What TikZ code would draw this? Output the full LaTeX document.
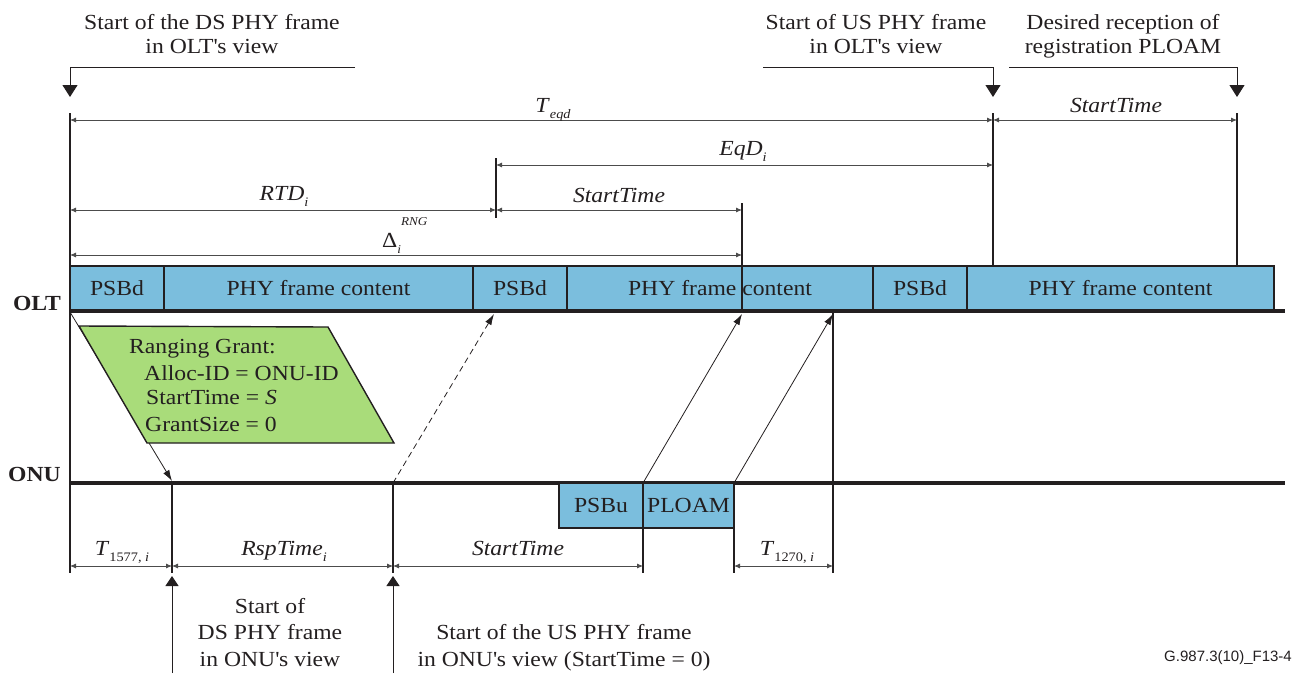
\documentclass[tikz,border=0pt]{standalone}
\usepackage{fontspec}
\setmainfont[FakeStretch=1.1]{Liberation Serif}
\newfontfamily\codefont{Liberation Sans}
\usetikzlibrary{arrows.meta}
\definecolor{boxblue}{HTML}{7BBEDD}
\definecolor{grantgreen}{HTML}{A9DC7A}
\definecolor{ink}{HTML}{231F20}
\newcommand{\lblfont}{\fontsize{21.5}{24}\selectfont}
\newcommand{\sbs}[1]{\raisebox{-0.3em}{\fontsize{13}{13}\selectfont #1}}
\newcommand{\ap}{\textquotesingle}
\begin{document}
\begin{tikzpicture}[x=1pt,y=-1pt,
  txt/.style={font=\lblfont, inner sep=0pt, align=center, text=ink},
  lefttxt/.style={font=\lblfont, inner sep=0pt, text=ink, anchor=base west},
  blk/.style={draw=ink, line width=1.4pt, fill=boxblue, font=\lblfont, text=ink, inner sep=0pt, outer sep=0pt, minimum height=45pt},
  dim/.style={draw=black!70, line width=0.8pt, {Latex[length=6pt,width=5pt]}-{Latex[length=6pt,width=5pt]}},
  tick/.style={draw=ink, line width=1.2pt},
  sig/.style={draw=ink, line width=0.8pt, -{Latex[length=11pt,width=7pt]}},
  callout/.style={draw=ink, line width=1pt, -{Triangle[length=12pt,width=15pt]}},
  uparrow/.style={draw=ink, line width=1pt, -{Triangle[length=10pt,width=13pt]}},
  axis/.style={draw=ink, line width=4pt},
]
\useasboundingbox (0,0) rectangle (1305,673);

% ---------- named coordinates ----------
\coordinate (oltL) at (70,311);  \coordinate (oltR) at (1285,311);
\coordinate (onuL) at (70,483);  \coordinate (onuR) at (1285,483);
\coordinate (v70t) at (70,113);  \coordinate (v70b) at (70,573);
\coordinate (v993t) at (993,113); \coordinate (v993b) at (993,266);
\coordinate (v1237t) at (1237,113); \coordinate (v1237b) at (1237,266);
\coordinate (v496t) at (496,158); \coordinate (v496b) at (496,218);
\coordinate (v742t) at (742,203); \coordinate (v742b) at (742,311);
\coordinate (v833t) at (833,311); \coordinate (v833b) at (833,573);
\coordinate (v172t) at (172,483); \coordinate (v172b) at (172,573);
\coordinate (v393t) at (393,483); \coordinate (v393b) at (393,573);
\coordinate (v643t) at (643,528); \coordinate (v643b) at (643,573);
\coordinate (v734t) at (734,528); \coordinate (v734b) at (734,573);
\coordinate (up172s) at (172,673); \coordinate (up172e) at (172,576);
\coordinate (up393s) at (393,673); \coordinate (up393e) at (393,576);

% ---------- top callouts ----------
\node[txt, anchor=base] (cDS) at (212,53) {Start of the DS PHY frame\\in OLT\ap s view};
\node[txt, anchor=base] (cUS) at (876,53) {Start of US PHY frame\\in OLT\ap s view};
\node[txt, anchor=base] (cRX) at (1123,53) {Desired reception of\\registration PLOAM};
\coordinate (cDSa) at (355,67); \coordinate (cDSb) at (70,67); \coordinate (cDSc) at (70,97);
\coordinate (cUSa) at (763,67); \coordinate (cUSb) at (993,67); \coordinate (cUSc) at (993,97);
\coordinate (cRXa) at (1009,67); \coordinate (cRXb) at (1237,67); \coordinate (cRXc) at (1237,97);
\draw[callout] (cDSa) -- (cDSb) -- (cDSc);
\draw[callout] (cUSa) -- (cUSb) -- (cUSc);
\draw[callout] (cRXa) -- (cRXb) -- (cRXc);

% ---------- vertical reference lines ----------
\draw[tick] (v70t) -- (v70b);
\draw[tick] (v993t) -- (v993b);
\draw[tick] (v1237t) -- (v1237b);
\draw[tick] (v496t) -- (v496b);

% ---------- dimension lines (top) ----------
\coordinate (dTa) at (70,120); \coordinate (dTb) at (993,120); \coordinate (dTc) at (1237,120);
\coordinate (dEa) at (496,165); \coordinate (dEb) at (993,165);
\coordinate (dRa) at (70,210); \coordinate (dRb) at (496,210); \coordinate (dRc) at (742,210);
\coordinate (dDa) at (70,255); \coordinate (dDb) at (742,255);
\draw[dim] (dTa) -- (dTb);
\draw[dim] (dTb) -- (dTc);
\draw[dim] (dEa) -- (dEb);
\draw[dim] (dRa) -- (dRb);
\draw[dim] (dRb) -- (dRc);
\draw[dim] (dDa) -- (dDb);
\node[txt, anchor=base] (lTeqd) at (553,112) {\textit{T}\sbs{\textit{eqd}}};
\node[txt, anchor=base] (lST1) at (1116,112) {\textit{StartTime}};
\node[txt, anchor=base] (lEqD) at (743,155) {\textit{EqD}\sbs{\textit{i}}};
\node[txt, anchor=base] (lRTD) at (284,200) {\textit{RTD}\sbs{\textit{i}}};
\node[txt, anchor=base] (lST2) at (619,202) {\textit{StartTime}};
\node[txt, anchor=base west] (lDelta) at (382,247) {Δ\raisebox{-0.3em}{\fontsize{12}{12}\selectfont\textit{i}}\raisebox{1.0em}{\fontsize{12}{12}\selectfont\textit{RNG}}};

% ---------- OLT frame ----------
\node[blk, anchor=south west, minimum width=94pt] (b1) at (70,311) {PSBd};
\node[blk, anchor=south west, minimum width=309pt] (b2) at (164,311) {PHY frame content};
\node[blk, anchor=south west, minimum width=94pt] (b3) at (473,311) {PSBd};
\node[blk, anchor=south west, minimum width=306pt] (b4) at (567,311) {PHY frame content};
\node[blk, anchor=south west, minimum width=94pt] (b5) at (873,311) {PSBd};
\node[blk, anchor=south west, minimum width=307pt] (b6) at (967,311) {PHY frame content};
\draw[tick] (v742t) -- (v742b);
\draw[axis] (oltL) -- (oltR);
\node[txt, anchor=base east, font=\lblfont\bfseries] (olt) at (61,310) {OLT};

% ---------- ONU line ----------
\draw[axis] (onuL) -- (onuR);
\node[txt, anchor=base east, font=\lblfont\bfseries] (onu) at (61,481) {ONU};

% ---------- signals ----------
\coordinate (s1a) at (70,312); \coordinate (s1b) at (172,481);
\draw[sig] (s1a) -- (s1b);
\coordinate (s2a) at (393,483); \coordinate (s2b) at (494,314);
\draw[sig, dashed, dash pattern=on 6pt off 4pt] (s2a) -- (s2b);
\coordinate (s3a) at (643,483); \coordinate (s3b) at (742,314);
\draw[sig] (s3a) -- (s3b);
\coordinate (s4a) at (734,483); \coordinate (s4b) at (833,314);
\draw[sig] (s4a) -- (s4b);
\draw[tick] (v833t) -- (v833b);

% ---------- ranging grant ----------
\coordinate (g1) at (79,326); \coordinate (g2) at (328,327); \coordinate (g3) at (394,443); \coordinate (g4) at (147,443);
\draw[draw=ink, line width=1.4pt, fill=grantgreen] (g1) -- (g2) -- (g3) -- (g4) -- cycle;
\node[lefttxt] (gt1) at (129,353) {Ranging Grant:};
\node[lefttxt] (gt2) at (144,380) {Alloc-ID = ONU-ID};
\node[lefttxt] (gt3) at (146,404) {StartTime = \textit{S}};
\node[lefttxt] (gt4) at (145,431) {GrantSize = 0};

% ---------- ONU burst ----------
\node[blk, anchor=north west, minimum width=84pt] (psbu) at (559,483) {PSBu};
\node[blk, anchor=north west, minimum width=91pt] (ploam) at (643,483) {PLOAM};

% ---------- lower ticks and dimensions ----------
\draw[tick] (v172t) -- (v172b);
\draw[tick] (v393t) -- (v393b);
\draw[tick] (v643t) -- (v643b);
\draw[tick] (v734t) -- (v734b);
\coordinate (e1) at (70,566); \coordinate (e2) at (172,566); \coordinate (e3) at (393,566);
\coordinate (e4) at (643,566); \coordinate (e5) at (734,566); \coordinate (e6) at (833,566);
\draw[dim] (e1) -- (e2);
\draw[dim] (e2) -- (e3);
\draw[dim] (e3) -- (e4);
\draw[dim] (e5) -- (e6);
\node[txt, anchor=base] (lT1577) at (122,555) {\textit{T}\sbs{1577, \textit{i}}};
\node[txt, anchor=base] (lRsp) at (284,555) {\textit{RspTime}\sbs{\textit{i}}};
\node[txt, anchor=base] (lST3) at (518,555) {\textit{StartTime}};
\node[txt, anchor=base] (lT1270) at (787,555) {\textit{T}\sbs{1270, \textit{i}}};

% ---------- bottom callouts ----------
\draw[uparrow] (up172s) -- (up172e);
\draw[uparrow] (up393s) -- (up393e);
\node[txt, anchor=base, font=\fontsize{21.5}{26.5}\selectfont] (bDS) at (270,666) {Start of\\DS PHY frame\\in ONU\ap s view};
\node[txt, anchor=base, font=\fontsize{21.5}{26.5}\selectfont] (bUS) at (564,666) {Start of the US PHY frame\\in ONU\ap s view (StartTime = 0)};
\node[inner sep=0pt, anchor=base, font=\codefont\fontsize{15}{15}\selectfont, text=ink] (code) at (1228,661) {G.987.3(10)\_F13-4};
\end{tikzpicture}
\end{document}
